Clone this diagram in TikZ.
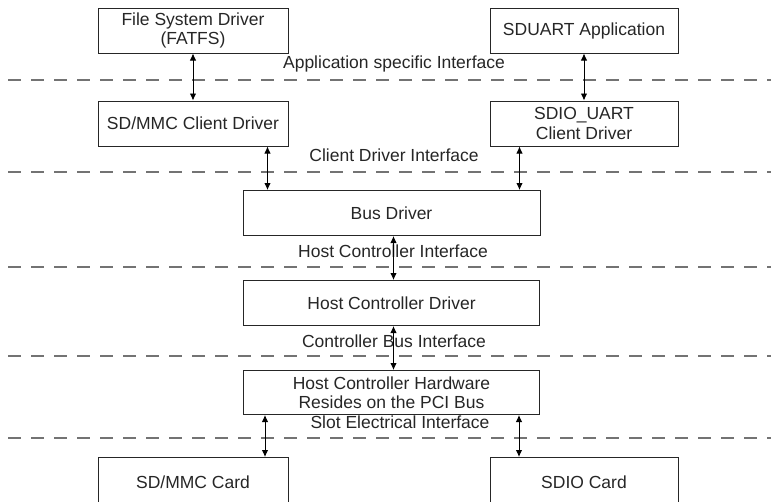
\documentclass[tikz,border=0pt]{standalone}
\usepackage{fontspec}
\setmainfont{Liberation Sans}
\usepackage{tikz}
\usetikzlibrary{arrows.meta,calc,positioning}
\tikzset{
	sd stack/.style={
		x=1pt, y=-1pt,
		font=\fontsize{17.5}{19.5}\selectfont,
		blk/.style={draw=black!85, line width=1pt, inner sep=0pt, align=center,
			minimum height=45pt, text=black!85},
		small blk/.style={blk, minimum width=190pt},
		wide blk/.style={blk, minimum width=296pt},
		ar/.style={line width=0.9pt, {Latex[length=7pt,width=6.5pt]}-{Latex[length=7pt,width=6.5pt]}},
		iface/.style={draw=black!55, line width=1.2pt, dash pattern=on 13pt off 10pt},
		lbl/.style={inner sep=1pt, text=black!85}
	}
}

\begin{document}
\begin{tikzpicture}[sd stack]
   \clip (0,0) rectangle (771,501);
   \useasboundingbox (0,0) rectangle (771,501);

   % interface boundaries
   \foreach \yy in {80,172,267,356,438}
      \draw[iface] (8,\yy) -- (780,\yy);

   \node[small blk] (fsd) at (193,30.5) {File System Driver\\(FATFS)};
   \node[small blk, minimum width=188pt] (app) at (584,30.5) {SDUART Application};
   \node[small blk, below=47pt of fsd] (mmcclient) {SD/MMC Client Driver};
   \node[small blk, minimum width=188pt, below=47pt of app] (uartclient) {SDIO\_UART\\Client Driver};
   \node[wide blk, minimum width=297pt] (bus) at (391.5,213) {Bus Driver};
   \node[wide blk, below=44pt of bus] (hcd) {Host Controller Driver};
   \node[wide blk, minimum height=44pt, below=44pt of hcd] (hch) {Host Controller Hardware\\Resides on the PCI Bus};
   % the cards run off the bottom edge
   \node[small blk, minimum height=50pt, anchor=north] (mmccard) at (193,457) {SD/MMC Card};
   \node[small blk, minimum width=188pt, minimum height=50pt, anchor=north] (sdiocard) at (584,457) {SDIO Card};

   \node[lbl] (appif) at (394,64) {Application specific Interface};
   \node[lbl] (clientif) at (394,155) {Client Driver Interface};
   \node[lbl] (hostif) at (393,251) {Host Controller Interface};
   \node[lbl] (busif) at (394,341) {Controller Bus Interface};
   \node[lbl] (slotif) at (400,422) {Slot Electrical Interface};

   \draw[ar] (fsd.south) -- (mmcclient.north);
   \draw[ar] (app.south) -- (uartclient.north);
   \draw[ar] ([xshift=-21pt]mmcclient.south east) -- ([xshift=-21pt]mmcclient.south east |- bus.north);
   \draw[ar] ([xshift=30pt]uartclient.south west) -- ([xshift=30pt]uartclient.south west |- bus.north);
   \draw[ar] ([xshift=2pt]bus.south) -- ([xshift=2pt]bus.south |- hcd.north);
   \draw[ar] ([xshift=2pt]hcd.south) -- ([xshift=2pt]hcd.south |- hch.north);
   \draw[ar] ([xshift=22pt]hch.south west) -- ([xshift=22pt]hch.south west |- mmccard.north);
   \draw[ar] ([xshift=-21pt]hch.south east) -- ([xshift=-21pt]hch.south east |- sdiocard.north);
\end{tikzpicture}
\end{document}
